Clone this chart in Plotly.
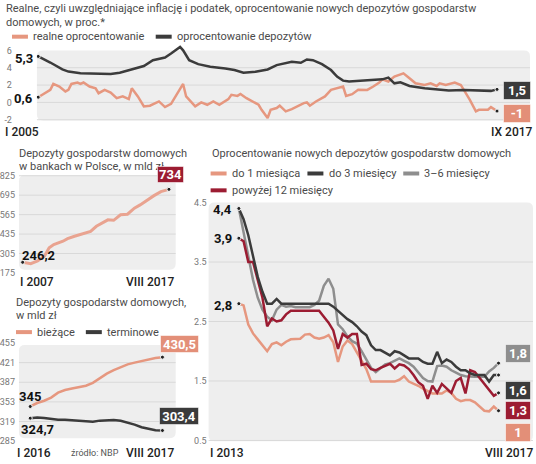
import plotly.graph_objects as go

W, H = 536, 464
FONT = "Roboto"

SALMON = "#e6977f"
DARK = "#3b3b3b"
GRAY = "#8e8e8e"
CRIMSON = "#9c1c32"
BG = "#eeeeee"
GRID = "#d9d9d9"
TITLE_C = "#4a4a4a"
AXIS_C = "#222222"

# top panel: months counted from I 2005
real_months = [0, 2, 4, 5, 7, 9, 10, 11, 13, 14,
               15, 17, 19, 20, 22, 24, 26, 28, 30, 31,
               33, 35, 37, 40, 42, 44, 46, 48, 49, 52,
               54, 56, 58, 60, 63, 64, 66, 67, 69, 71,
               73, 74, 76, 77, 79, 80, 82, 84, 86, 88,
               89, 90, 92, 95, 97, 99, 101, 102, 104, 106,
               109, 111, 113, 114, 116, 118, 120, 121, 123, 125,
               128, 130, 132, 133, 135, 138, 140, 141, 143, 145,
               146, 149, 150, 152]
real_rate = [0.6, 0.98, 1.44, 2.13, 1.83, 1.26, 1.44, 2.13, 2.29, 2.13,
             2.29, 1.83, 1.63, 1.06, 1.44, 1.14, 0.49, 0.69, 0.38, 1.63,
             0.69, -0.46, -0.38, 0.11, -0.54, -0.16, 1.06, 2.13, 0.69, -0.46,
             0.0, -0.27, 0.11, -0.27, 0.38, 0.87, 0.75, 0.98, 0.49, 0.11,
             -0.27, -0.85, -1.8, -0.85, -0.65, -0.38, -1.03, -0.77, -0.38, -0.08,
             0.0, -0.38, 0.11, 0.69, 1.44, 1.63, 1.83, 0.75, 0.95, 1.45,
             1.44, 1.83, 2.29, 2.66, 2.4, 2.97, 3.27, 3.35, 2.78, 2.2,
             2.01, 2.2, 1.9, 2.2, 2.01, 2.29, 2.01, 1.44, 0.3, -1.03,
             -0.85, -0.85, -0.54, -1.0]
dep_months = [0, 4, 8, 10, 14, 20, 24, 27, 31, 35,
              38, 42, 44, 46, 47, 48, 50, 53, 57, 62,
              65, 68, 72, 76, 79, 84, 87, 89, 91, 94,
              97, 99, 101, 103, 107, 114, 116, 118, 120, 123,
              128, 132, 136, 141, 145, 150, 152]
dep_rate = [5.3, 4.6, 3.8, 3.55, 3.35, 3.27, 3.27, 3.43, 3.8, 4.2,
            4.87, 5.18, 5.63, 6.2, 6.4, 6.0, 4.87, 4.41, 4.11, 3.92,
            3.73, 3.43, 3.54, 3.8, 4.3, 4.69, 4.57, 4.95, 4.87, 4.41,
            3.73, 2.97, 2.51, 2.4, 2.51, 2.66, 2.86, 2.2, 2.32, 1.9,
            1.63, 1.52, 1.37, 1.44, 1.37, 1.33, 1.5]
top_ticks = [6, 4, 2, 0, -2]

# middle left: months counted from I 2007, bn zl
total_months = [0, 7, 13, 19, 23, 27, 35, 39, 45, 50,
                55, 59, 64, 68, 74, 79, 85, 91, 97, 102,
                108, 114, 120, 127]
total_dep = [246.2, 237, 255, 288, 343, 365, 387, 404, 420, 431,
             442, 453, 487, 502, 530, 527, 564, 568, 608, 630,
             663, 692, 719, 734]
total_ticks = [825, 695, 565, 435, 305, 175]

# bottom left: monthly I 2016 - VIII 2017, bn zl
cur_dep = [345, 351, 355, 360.5, 369, 373.5, 376, 379, 381, 386,
           394, 402, 408, 413, 418, 421, 424, 427, 429, 430.5]
term_dep = [324.7, 326, 325, 323.3, 322, 322, 321, 320.4, 319.5, 318.5,
            320.5, 321.5, 321.5, 320.4, 317.5, 313.5, 309, 306, 304, 303.4]
split_ticks = [455, 421, 387, 353, 319, 285]

# right: monthly I 2013 - VIII 2017, %
rate_1m = [2.8, 2.77, 2.45, 2.3, 2.2, 2.1, 2.0, 2.12, 2.15, 2.1,
           2.16, 2.2, 2.21, 2.21, 2.28, 2.29, 2.23, 2.21, 2.23, 2.27,
           2.15, 1.82, 2.08, 2.18, 2.12, 1.98, 1.84, 1.7, 1.49, 1.49,
           1.49, 1.49, 1.49, 1.49, 1.52, 1.58, 1.49, 1.46, 1.42, 1.37,
           1.33, 1.29, 1.29, 1.29, 1.34, 1.3, 1.2, 1.16, 1.18, 1.18,
           1.14, 1.07, 1.0, 0.99, 1.07, 1.0]
rate_3m = [4.4, 4.22, 3.95, 3.57, 3.25, 3.0, 2.8, 2.8, 2.88, 2.8,
           2.8, 2.8, 2.8, 2.8, 2.8, 2.8, 2.8, 2.8, 2.8, 2.8,
           2.75, 2.68, 2.6, 2.54, 2.49, 2.42, 2.33, 2.27, 2.1, 2.02,
           2.02, 1.98, 1.93, 2.0, 1.98, 1.93, 1.88, 1.88, 1.88, 1.82,
           1.79, 1.79, 1.99, 1.8, 1.86, 1.82, 1.74, 1.68, 1.68, 1.63,
           1.6, 1.6, 1.6, 1.49, 1.6, 1.6]
rate_3_6m = [4.4, 4.0, 3.6, 3.2, 2.9, 2.7, 2.58, 2.52, 2.7, 2.78,
             2.75, 2.76, 2.74, 2.74, 2.74, 2.74, 2.78, 2.85, 3.1, 3.22,
             3.05, 2.45, 2.37, 2.25, 2.17, 2.13, 2.0, 1.85, 1.72, 1.65,
             1.72, 1.78, 1.8, 1.84, 1.88, 1.84, 1.8, 1.74, 1.65, 1.55,
             1.5, 1.49, 1.75, 1.76, 1.74, 1.68, 1.64, 1.6, 1.58, 1.57,
             1.57, 1.57, 1.57, 1.66, 1.72, 1.8]
rate_12m = [3.9, 3.85, 3.5, 3.5, 3.2, 2.9, 2.42, 2.55, 2.5, 2.52,
            2.62, 2.68, 2.68, 2.68, 2.68, 2.68, 2.68, 2.68, 2.58, 2.48,
            2.35, 2.04, 2.29, 2.23, 2.29, 2.29, 1.77, 1.79, 1.7, 1.68,
            1.72, 1.75, 1.79, 1.71, 1.78, 1.76, 1.7, 1.6, 1.48, 1.42,
            1.2, 1.42, 1.3, 1.45, 1.38, 1.3, 1.5, 1.55, 1.29, 1.68,
            1.65, 1.55, 1.45, 1.35, 1.25, 1.3]
rate_ticks = [4.5, 3.5, 2.5, 1.5, 0.5]


def fmt(v):
    s = f"{v:.1f}".replace(".", ",")
    return s[:-2] if s.endswith(",0") else s


def X(v):
    return v / W


def Y(v):
    return 1 - v / H


layout = {}
shapes = []
notes = []
traces = []


def panel(i, left, right, top, bottom, x0, xk, yp, yv, yk, ticks, ticktext, standoff, bg):
    # pixel geometry -> axis ranges
    s = "" if i == 1 else str(i)
    layout["xaxis" + s] = dict(domain=[X(left), X(right)], anchor="y" + s, visible=False,
                               range=[(left - x0) / xk, (right - x0) / xk])
    layout["yaxis" + s] = dict(domain=[Y(bottom), Y(top)], anchor="x" + s,
                               range=[yv - (bottom - yp) / yk, yv + (yp - top) / yk],
                               showgrid=False, zeroline=False, showline=False, ticks="",
                               tickvals=ticks, ticktext=ticktext, ticklabelstandoff=standoff,
                               tickfont=dict(family=FONT, size=9, color="#777"))
    bx0, by0, bx1, by1 = bg
    r = 6
    path = (f"M {X(bx0 + r)},{Y(by0)} L {X(bx1 - r)},{Y(by0)} Q {X(bx1)},{Y(by0)} {X(bx1)},{Y(by0 + r)} "
            f"L {X(bx1)},{Y(by1 - r)} Q {X(bx1)},{Y(by1)} {X(bx1 - r)},{Y(by1)} "
            f"L {X(bx0 + r)},{Y(by1)} Q {X(bx0)},{Y(by1)} {X(bx0)},{Y(by1 - r)} "
            f"L {X(bx0)},{Y(by0 + r)} Q {X(bx0)},{Y(by0)} {X(bx0 + r)},{Y(by0)} Z")
    shapes.append(dict(type="path", xref="paper", yref="paper", path=path,
                       fillcolor=BG, line_width=0, layer="below"))
    lo = yv - (by1 - yp) / yk
    hi = yv + (yp - by0) / yk
    for t in ticks:
        if lo + 1e-6 < t < hi - 1e-6:
            shapes.append(dict(type="line", xref="paper", yref="y" + s, x0=X(bx0), x1=X(bx1),
                               y0=t, y1=t, line=dict(color=GRID, width=1), layer="below"))
    return "x" + s, "y" + s


def line(xa, ya, xs, ys, color, width=2.5):
    traces.append(go.Scatter(x=xs, y=ys, mode="lines", xaxis=xa, yaxis=ya,
                             line=dict(color=color, width=width), hoverinfo="skip", showlegend=False))
    traces.append(go.Scatter(x=[xs[0], xs[-1]], y=[ys[0], ys[-1]], mode="markers", xaxis=xa, yaxis=ya,
                             marker=dict(size=4, color="#222", line=dict(color="#f4f4f4", width=1)),
                             hoverinfo="skip", showlegend=False))


def note(x, y, text, size=11, color=TITLE_C, anchor="left", weight="normal"):
    notes.append(dict(xref="paper", yref="paper", x=X(x), y=Y(y), text=text, showarrow=False,
                      xanchor=anchor, yanchor="middle",
                      font=dict(family=FONT, size=size, color=color, weight=weight)))


def box(cx, cy, w, h, value, fill):
    notes.append(dict(xref="paper", yref="paper", x=X(cx), y=Y(cy), text=fmt(value), showarrow=False,
                      xanchor="center", yanchor="middle", width=w, height=h, bgcolor=fill,
                      bordercolor="rgba(255,255,255,0.55)", borderwidth=1, borderpad=0,
                      font=dict(family=FONT, size=13, color="white", weight="bold")))


def swatch(x0, x1, y, color):
    shapes.append(dict(type="line", xref="paper", yref="paper", x0=X(x0), x1=X(x1), y0=Y(y), y1=Y(y),
                       line=dict(color=color, width=4)))


# ---- top panel
xa, ya = panel(1, 36, 532, 44, 124, 37.3, 3.024, 103.3, 0, 8.75,
               top_ticks, [str(t) for t in top_ticks], 24, (36, 51, 530, 121.5))
line(xa, ya, real_months, real_rate, SALMON)
line(xa, ya, dep_months, dep_rate, DARK)
note(3, 9, "Realne, czyli uwzględniające inflację i podatek, oprocentowanie nowych depozytów gospodarstw")
note(3, 23, "domowych, w proc.*")
swatch(11, 27, 37, SALMON)
note(30, 37, "realne oprocentowanie")
swatch(155, 171, 37, DARK)
note(174, 37, "oprocentowanie depozytów")
note(34, 59, fmt(dep_rate[0]), 13, "#111", "right", "bold")
note(34, 99, fmt(real_rate[0]), 13, "#111", "right", "bold")
box(517, 91, 26, 17, dep_rate[-1], DARK)
box(517, 114, 26, 17, real_rate[-1], "#e38f78")
note(2, 133, "I 2005", 12, AXIS_C, "left", 500)
note(535, 133, "IX 2017", 12, AXIS_C, "right", 500)

# ---- middle left panel
xa, ya = panel(2, 18, 176, 170, 277, 21.7, 1.154, 275.3, 175, 0.1508,
               total_ticks, [str(t) for t in total_ticks], 3, (18, 176.7, 175, 272))
line(xa, ya, total_months, total_dep, "#e9a390", 3)
note(16, 155, "Depozyty gospodarstw domowych")
note(16, 168, "w bankach w Polsce, w mld zł")
note(19, 258, fmt(total_dep[0]), 13, "#111", "left", "bold")
box(170, 176, 25, 15, total_dep[-1], CRIMSON)
note(17, 284, "I 2007", 12, AXIS_C, "left", 500)
note(175, 284, "VIII 2017", 12, AXIS_C, "right", 500)

# ---- bottom left panel
months16 = list(range(len(cur_dep)))
xa, ya = panel(3, 18, 176, 338, 446, 29.3, 6.97, 346, 455, 0.582,
               split_ticks, [str(t) for t in split_ticks], 3, (18, 348, 175, 442))
line(xa, ya, months16, cur_dep, SALMON)
line(xa, ya, months16, term_dep, DARK)
note(13, 305, "Depozyty gospodarstw domowych,")
note(13, 318, "w mld zł")
swatch(15, 31, 335, SALMON)
note(34, 335, "bieżące")
swatch(85, 101, 335, DARK)
note(104, 335, "terminowe")
note(16, 400, fmt(cur_dep[0]), 13, "#111", "left", "bold")
note(18, 433, fmt(term_dep[0]), 13, "#111", "left", "bold")
box(179, 347, 37, 16, cur_dep[-1], "#e38f78")
box(178.5, 420, 38, 16, term_dep[-1], DARK)
note(14, 457, "I 2016", 12, AXIS_C, "left", 500)
note(68, 457, "źródło: NBP", 9, "#555", "left")
note(175, 457, "VIII 2017", 12, AXIS_C, "right", 500)

# ---- right panel
months13 = list(range(len(rate_1m)))
xa, ya = panel(4, 208, 534, 198, 448, 238.3, 4.73, 384.3, 1.5, 60,
               rate_ticks, [f"{t:.1f}" for t in rate_ticks], 1, (208, 204.3, 533, 445))
line(xa, ya, months13, rate_1m, SALMON)
line(xa, ya, months13, rate_3_6m, GRAY)
line(xa, ya, months13, rate_12m, CRIMSON)
line(xa, ya, months13, rate_3m, DARK)
note(209, 155, "Oprocentowanie nowych depozytów gospodarstw domowych")
swatch(210, 226, 175, SALMON)
note(229, 175, "do 1 miesiąca")
swatch(307, 323, 175, DARK)
note(327, 175, "do 3 miesięcy")
swatch(403, 419, 175, GRAY)
note(422, 175, "3–6 miesięcy")
swatch(210, 226, 192, CRIMSON)
note(229, 192, "powyżej 12 miesięcy")
note(233, 211, fmt(rate_3m[0]), 13, "#111", "right", "bold")
note(233, 241, fmt(rate_12m[0]), 13, "#111", "right", "bold")
note(233, 308, fmt(rate_1m[0]), 13, "#111", "right", "bold")
box(518, 357, 24, 17, rate_3_6m[-1], GRAY)
box(518, 393.5, 24, 17, rate_3m[-1], DARK)
box(518, 414.5, 24, 17, rate_12m[-1], CRIMSON)
box(518, 436.5, 24, 17, rate_1m[-1], "#e38f78")
note(207, 457, "I 2013", 12, AXIS_C, "left", 500)
note(535, 457, "VIII 2017", 12, AXIS_C, "right", 500)

fig = go.Figure(data=traces)
fig.update_layout(width=W, height=H, margin=dict(l=0, r=0, t=0, b=0),
                  paper_bgcolor="white", plot_bgcolor="rgba(0,0,0,0)",
                  shapes=shapes, annotations=notes, showlegend=False,
                  font=dict(family=FONT), **layout)
# the page's default body margin would push the 536x464 figure off the window
fig.write_html("out.html", config={"displayModeBar": False},
               post_script="document.body.style.margin = '0px';")
